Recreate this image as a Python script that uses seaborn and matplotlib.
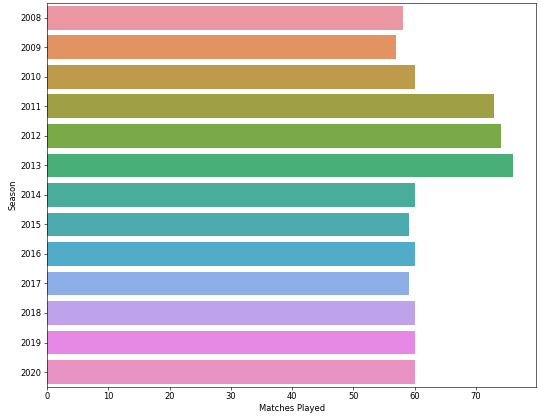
import numpy as np
import pandas as pd
import seaborn as sns
import matplotlib
matplotlib.use("Agg")
import matplotlib.pyplot as plt

seasons = ['2008', '2009', '2010', '2011', '2012', '2013', '2014',
           '2015', '2016', '2017', '2018', '2019', '2020']
matches = [58, 57, 60, 73, 74, 76, 60, 59, 60, 59, 60, 60, 60]

df = pd.DataFrame({'Season': seasons, 'Matches Played': matches})

plt.rcParams['font.family'] = ['DejaVu Sans']
plt.rcParams['font.size'] = 11.2
fig, ax = plt.subplots(figsize=(541 / 54, 420 / 54), dpi=54)
fig.subplots_adjust(left=0.087, right=0.991, top=0.993, bottom=0.079)

pal = sns.husl_palette(len(seasons), l=.7)
sns.barplot(data=df, x='Matches Played', y='Season', hue='Season',
            palette=pal, legend=False, orient='h', ax=ax)

ax.set_xlim(0, 79.8)
plt.savefig('out.png', dpi=54)
